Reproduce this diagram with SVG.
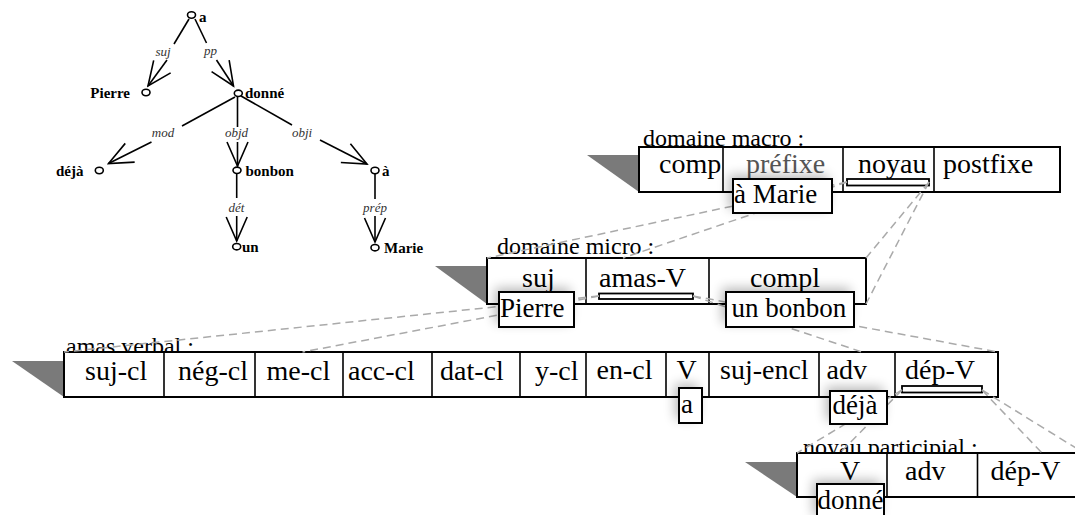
<svg xmlns="http://www.w3.org/2000/svg" width="1075" height="515" viewBox="0 0 1075 515">
  <style>
    .edge { stroke: #000; stroke-width: 1.6; fill: none; }
    .node { fill: #fff; stroke: #000; stroke-width: 1.6; }
    .word { font-family: "Liberation Serif", "Times New Roman", serif; font-weight: bold; font-size: 15px; fill: #000; }
    .rel { font-family: "Liberation Serif", "Times New Roman", serif; font-style: italic; font-size: 13px; fill: #333; text-anchor: middle; }
    .frame { fill: #fff; stroke: #000; stroke-width: 2; }
    .cellsep { stroke: #000; stroke-width: 1.6; }
    .wedge { fill: #7a7a7a; stroke: none; }
    .title { font-family: "Liberation Serif", "Times New Roman", serif; font-size: 24px; fill: #000; }
    .cell { font-family: "Liberation Serif", "Times New Roman", serif; font-size: 28px; fill: #000; }
    .filler { font-family: "Liberation Serif", "Times New Roman", serif; font-size: 27px; fill: #000; }
    .bar { fill: #fff; stroke: #000; stroke-width: 1.8; }
    .link { stroke: #aaa; stroke-width: 1.5; stroke-dasharray: 8 5; fill: none; }
    .shadow { fill: #000; opacity: 0.28; filter: url(#soft); }
  </style>
  <defs>
    <marker id="head" markerUnits="userSpaceOnUse" viewBox="-26 -13 28 26" markerWidth="28" markerHeight="26" refX="0" refY="0" orient="auto">
      <path d="M-24,-10.5 L0,0 L-24,10.5" fill="none" stroke="#000" stroke-width="1.6"/>
    </marker>
    <filter id="soft" x="-50%" y="-50%" width="200%" height="200%">
      <feGaussianBlur stdDeviation="6"/>
    </filter>
  </defs>

  <!-- dependency tree -->
  <g id="tree-edges">
    <!-- a -> Pierre (suj) -->
    <path class="edge" d="M189,19 L174,44"/>
    <path class="edge" d="M167,60 L148,86" marker-end="url(#head)"/>
    <text class="rel" x="163" y="56">suj</text>
    <!-- a -> donné (pp) -->
    <path class="edge" d="M195,19 L206.5,43"/>
    <path class="edge" d="M216.5,60 L233.5,86" marker-end="url(#head)"/>
    <text class="rel" x="210.5" y="55">pp</text>
    <!-- donné -> déjà (mod) -->
    <path class="edge" d="M235,97 L182,126"/>
    <path class="edge" d="M151.5,142 L108.5,163.5" marker-end="url(#head)"/>
    <text class="rel" x="163" y="137">mod</text>
    <!-- donné -> bonbon (objd) -->
    <path class="edge" d="M237.5,97 L237.5,127"/>
    <path class="edge" d="M237.5,142 L237.5,166" marker-end="url(#head)"/>
    <text class="rel" x="236.5" y="137">objd</text>
    <!-- donné -> à (obji) -->
    <path class="edge" d="M241,96 L292,125"/>
    <path class="edge" d="M320,140 L367,164" marker-end="url(#head)"/>
    <text class="rel" x="302" y="137">obji</text>
    <!-- bonbon -> un (dét) -->
    <path class="edge" d="M236.7,174 L236.7,198"/>
    <path class="edge" d="M236.7,216 L236.7,241" marker-end="url(#head)"/>
    <text class="rel" x="236.5" y="212">dét</text>
    <!-- à -> Marie (prép) -->
    <path class="edge" d="M375,174 L375,199"/>
    <path class="edge" d="M375,216 L375,242" marker-end="url(#head)"/>
    <text class="rel" x="375" y="212">prép</text>
  </g>

  <g id="t-a">
    <ellipse class="node" cx="191.5" cy="15" rx="4" ry="3.2"/>
    <text class="word" x="199" y="22">a</text>
  </g>
  <g id="t-pierre">
    <ellipse class="node" cx="146" cy="92.5" rx="4" ry="3.2"/>
    <text class="word" x="130" y="98" text-anchor="end">Pierre</text>
  </g>
  <g id="t-donne">
    <ellipse class="node" cx="238.3" cy="93.3" rx="4" ry="3.2"/>
    <text class="word" x="245" y="98">donné</text>
  </g>
  <g id="t-deja">
    <ellipse class="node" cx="99.3" cy="170.5" rx="4" ry="3.2"/>
    <text class="word" x="83.5" y="176" text-anchor="end">déjà</text>
  </g>
  <g id="t-bonbon">
    <ellipse class="node" cx="237" cy="170.3" rx="4" ry="3.2"/>
    <text class="word" x="245.5" y="176">bonbon</text>
  </g>
  <g id="t-un">
    <ellipse class="node" cx="236.7" cy="246.7" rx="4" ry="3.2"/>
    <text class="word" x="242" y="252">un</text>
  </g>
  <g id="t-a-prep">
    <ellipse class="node" cx="375" cy="170.5" rx="4" ry="3.2"/>
    <text class="word" x="382" y="176">à</text>
  </g>
  <g id="t-marie">
    <ellipse class="node" cx="375" cy="247.7" rx="4" ry="3.2"/>
    <text class="word" x="384" y="253">Marie</text>
  </g>

  <!-- topological domains -->
  <g id="domaine-macro">
    <text class="title" x="643" y="146">domaine macro :</text>
    <polygon class="wedge" points="587,155 639,155 639,192"/>
    <rect class="frame" x="639" y="147" width="421" height="45"/>
    <line class="cellsep" x1="723" y1="147" x2="723" y2="192"/>
    <line class="cellsep" x1="843" y1="147" x2="843" y2="192"/>
    <line class="cellsep" x1="934" y1="147" x2="934" y2="192"/>
    <text class="cell" x="659" y="173">comp</text>
    <text class="cell" x="746" y="173" fill="#555" style="fill:#555">préfixe</text>
    <text class="cell" x="858" y="173">noyau</text>
    <text class="cell" x="943" y="173">postfixe</text>
    <rect class="bar" x="847" y="179" width="82" height="6.5"/>
  </g>

  <g id="domaine-micro">
    <text class="title" x="497" y="254">domaine micro :</text>
    <polygon class="wedge" points="435,266 487,266 487,304"/>
    <rect class="frame" x="487" y="258" width="379" height="46"/>
    <line class="cellsep" x1="586" y1="258" x2="586" y2="304"/>
    <line class="cellsep" x1="709" y1="258" x2="709" y2="304"/>
    <text class="cell" x="522" y="287">suj</text>
    <text class="cell" x="599" y="287">amas-V</text>
    <text class="cell" x="750" y="287">compl</text>
    <rect class="bar" x="599" y="293.5" width="94" height="5.5"/>
  </g>

  <g id="amas-verbal">
    <text class="title" x="66" y="354">amas verbal :</text>
    <polygon class="wedge" points="12,361 64,361 64,397"/>
    <rect class="frame" x="64" y="352" width="934" height="45"/>
    <line class="cellsep" x1="164" y1="352" x2="164" y2="397"/>
    <line class="cellsep" x1="255" y1="352" x2="255" y2="397"/>
    <line class="cellsep" x1="343" y1="352" x2="343" y2="397"/>
    <line class="cellsep" x1="432" y1="352" x2="432" y2="397"/>
    <line class="cellsep" x1="520" y1="352" x2="520" y2="397"/>
    <line class="cellsep" x1="586" y1="352" x2="586" y2="397"/>
    <line class="cellsep" x1="666" y1="352" x2="666" y2="397"/>
    <line class="cellsep" x1="709" y1="352" x2="709" y2="397"/>
    <line class="cellsep" x1="819" y1="352" x2="819" y2="397"/>
    <line class="cellsep" x1="895" y1="352" x2="895" y2="397"/>
    <text class="cell" x="85" y="380">suj-cl</text>
    <text class="cell" x="178" y="380">nég-cl</text>
    <text class="cell" x="266.5" y="380">me-cl</text>
    <text class="cell" x="348" y="380">acc-cl</text>
    <text class="cell" x="440" y="380">dat-cl</text>
    <text class="cell" x="535" y="380">y-cl</text>
    <text class="cell" x="596.5" y="379">en-cl</text>
    <text class="cell" x="676.5" y="379">V</text>
    <text class="cell" x="720" y="379">suj-encl</text>
    <text class="cell" x="826.5" y="379">adv</text>
    <text class="cell" x="905" y="379">dép-V</text>
    <rect class="bar" x="902" y="386" width="80" height="6.5"/>
  </g>

  <g id="noyau-participial">
    <text class="title" x="803" y="455">noyau participial :</text>
    <polygon class="wedge" points="745,462 797,462 797,497"/>
    <rect class="frame" x="797" y="453" width="290" height="44"/>
    <line class="cellsep" x1="887" y1="453" x2="887" y2="497"/>
    <line class="cellsep" x1="977.5" y1="453" x2="977.5" y2="497"/>
    <text class="cell" x="840" y="480">V</text>
    <text class="cell" x="905" y="480">adv</text>
    <text class="cell" x="990.5" y="480">dép-V</text>
  </g>

  <!-- embedding links from each placeholder bar to the corners of the embedded domain -->
  <g id="connectors">
    <path class="link" d="M847,182 L487,258"/>
    <path class="link" d="M847,182 L623,258"/>
    <path class="link" d="M929,182 L866,258"/>
    <path class="link" d="M929,182 L866,304"/>
    <path class="link" d="M599,296 L64,352"/>
    <path class="link" d="M599,296 L302.5,352"/>
    <path class="link" d="M693,296 L998,352"/>
    <path class="link" d="M693,296 L862,352"/>
    <path class="link" d="M902,390 L797,453"/>
    <path class="link" d="M902,390 L840,453"/>
    <path class="link" d="M982,390 L1084,453"/>
    <path class="link" d="M982,390 L1042,453"/>
  </g>

  <!-- word fillers placed in the fields -->
  <g id="f-a-marie">
    <rect class="shadow" x="729" y="175" width="99" height="34"/>
    <rect class="frame" x="733" y="179" width="99" height="34"/>
    <text class="filler" x="734" y="203">à Marie</text>
  </g>
  <g id="f-pierre">
    <rect class="shadow" x="495" y="288" width="75" height="35"/>
    <rect class="frame" x="499" y="292" width="75" height="35"/>
    <text class="filler" x="500" y="317">Pierre</text>
  </g>
  <g id="f-un-bonbon">
    <rect class="shadow" x="722" y="288" width="128" height="35"/>
    <rect class="frame" x="726" y="292" width="128" height="35"/>
    <text class="filler" x="731.5" y="317">un bonbon</text>
  </g>
  <g id="f-a">
    <rect class="shadow" x="675" y="384" width="23" height="35"/>
    <rect class="frame" x="679" y="388" width="23" height="35"/>
    <text class="filler" x="681" y="413">a</text>
  </g>
  <g id="f-deja">
    <rect class="shadow" x="826" y="387" width="57" height="33"/>
    <rect class="frame" x="830" y="391" width="57" height="33"/>
    <text class="filler" x="832.5" y="413.5">déjà</text>
  </g>
  <g id="f-donne">
    <rect class="shadow" x="813" y="480" width="67" height="35"/>
    <rect class="frame" x="817" y="484" width="67" height="35"/>
    <text class="filler" x="817.5" y="508.5">donné</text>
  </g>
</svg>
